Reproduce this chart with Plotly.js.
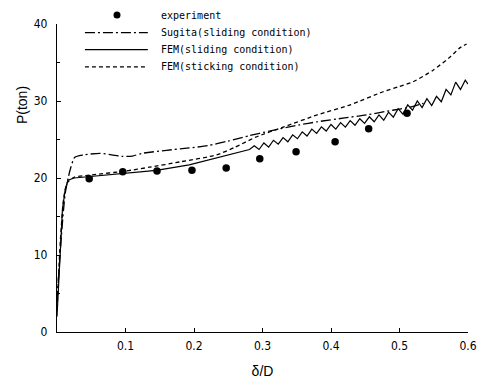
<!DOCTYPE html>
<html>
<head>
<meta charset="utf-8">
<script src="https://cdn.plot.ly/plotly-3.0.1.min.js"></script>
<style>html,body{margin:0;padding:0;background:#fff}#chart{width:482px;height:380px}</style>
</head>
<body>
<div id="chart"></div>
<script>
// ---- data ----
const expX = [0.047, 0.096, 0.146, 0.197, 0.247, 0.296, 0.349, 0.406, 0.455, 0.511];
const expY = [19.9, 20.8, 20.9, 21.0, 21.3, 22.5, 23.4, 24.7, 26.4, 28.4];

const sugitaX = [0.0, 0.006, 0.012, 0.019, 0.026, 0.038, 0.063, 0.08, 0.095, 0.11, 0.124, 0.16, 0.193, 0.22, 0.25, 0.281, 0.31, 0.354, 0.38, 0.42, 0.452, 0.49, 0.515, 0.535];
const sugitaY = [4, 12, 18, 21, 22.7, 23.0, 23.2, 23.0, 22.8, 22.85, 23.2, 23.6, 23.9, 24.2, 24.8, 25.5, 26.1, 26.9, 27.3, 27.8, 28.2, 28.8, 29.2, 29.7];

const slideX = [0, 0.004, 0.008, 0.012, 0.016, 0.025, 0.047, 0.095, 0.145, 0.193, 0.233, 0.26, 0.281,
  0.288, 0.295, 0.302, 0.309, 0.316, 0.323, 0.330, 0.337, 0.344, 0.351, 0.358, 0.365, 0.372, 0.379,
  0.386, 0.393, 0.400, 0.407, 0.414, 0.421, 0.428, 0.435, 0.442, 0.449, 0.456, 0.463, 0.470, 0.477,
  0.484, 0.491, 0.498, 0.505, 0.512, 0.519, 0.526, 0.533, 0.540, 0.547, 0.554, 0.561, 0.568, 0.575,
  0.582, 0.589, 0.596, 0.600];
const slideY = [2, 10, 16, 18.5, 19.7, 20.0, 20.2, 20.6, 21.0, 21.7, 22.6, 23.2, 23.7,
  24.2, 23.7, 24.55, 24.0, 24.9, 24.4, 25.25, 24.7, 25.6, 25.1, 26.0, 25.45, 26.35, 25.8,
  26.65, 26.1, 26.95, 26.35, 27.2, 26.6, 27.45, 26.85, 27.7, 27.1, 27.95, 27.3, 28.2, 27.5,
  28.55, 27.9, 29.0, 28.3, 29.5, 28.8, 30.0, 29.15, 30.3, 29.4, 30.6, 29.9, 31.5, 30.8,
  32.45, 31.5, 32.7, 32.2];

const stickX = [0, 0.005, 0.010, 0.015, 0.025, 0.05, 0.1, 0.135, 0.18, 0.233, 0.26, 0.29, 0.33, 0.38, 0.428, 0.476, 0.5, 0.52, 0.549, 0.575, 0.588, 0.598];
const stickY = [3, 12, 17.5, 19.4, 20.1, 20.4, 20.9, 21.4, 22.1, 23.0, 24.0, 25.3, 26.6, 28.2, 29.5, 31.2, 31.9, 32.5, 34.0, 35.8, 36.9, 37.4];

const xTicks = [0.1, 0.2, 0.3, 0.4, 0.5, 0.6];
const yTicks = [0, 10, 20, 30, 40];
const legendNames = ['experiment', 'Sugita(sliding condition)', 'FEM(sliding condition)', 'FEM(sticking condition)'];

// ---- styles ----
const tickFont = {family: '"Liberation Sans Narrow", "DejaVu Sans Condensed", "Liberation Sans", sans-serif', size: 12, color: '#000'};
const legFont = {family: '"DejaVu Sans Mono", monospace', size: 10, color: '#000'};
const dashSugita = '10px,3px,2px,3px';
const dashStick = '4px,3px';

const traces = [
  {x: expX, y: expY, mode: 'markers', type: 'scatter', name: legendNames[0],
   marker: {color: '#000', size: 7.5, symbol: 'circle'}},
  {x: sugitaX, y: sugitaY, mode: 'lines', type: 'scatter', name: legendNames[1],
   line: {color: '#000', width: 1.3, dash: dashSugita, shape: 'spline', smoothing: 0.6}},
  {x: slideX, y: slideY, mode: 'lines', type: 'scatter', name: legendNames[2],
   line: {color: '#000', width: 1.2}},
  {x: stickX, y: stickY, mode: 'lines', type: 'scatter', name: legendNames[3],
   line: {color: '#000', width: 1.3, dash: dashStick, shape: 'spline', smoothing: 0.6}}
];

// custom legend (paper coordinates)
const legRows = [1.029, 0.972, 0.917, 0.861];
const legX0 = 0.068, legX1 = 0.221, legTextX = 0.248, legMarkX = 0.146;
const shapes = [
  {type: 'circle', xref: 'paper', yref: 'paper', xsizemode: 'pixel', ysizemode: 'pixel',
   xanchor: legMarkX, yanchor: legRows[0], x0: -3.5, x1: 3.5, y0: -3.5, y1: 3.5,
   fillcolor: '#000', line: {color: '#000', width: 0}},
  {type: 'line', xref: 'paper', yref: 'paper', x0: legX0, x1: legX1, y0: legRows[1], y1: legRows[1],
   line: {color: '#000', width: 1.2, dash: dashSugita}},
  {type: 'line', xref: 'paper', yref: 'paper', x0: legX0, x1: legX1, y0: legRows[2], y1: legRows[2],
   line: {color: '#000', width: 1.2}},
  {type: 'line', xref: 'paper', yref: 'paper', x0: legX0, x1: legX1, y0: legRows[3], y1: legRows[3],
   line: {color: '#000', width: 1.2, dash: dashStick}}
];
const annotations = legendNames.map((t, i) => ({
  text: t, xref: 'paper', yref: 'paper', x: legTextX, y: legRows[i], xanchor: 'left', yanchor: 'middle',
  showarrow: false, font: legFont
}));
annotations.push({text: 'P(ton)', xref: 'paper', yref: 'paper', x: -0.085, y: 0.737, textangle: -90,
  xanchor: 'center', yanchor: 'middle', showarrow: false,
  font: {family: '"Liberation Sans", Arial, sans-serif', size: 14, color: '#000'}});

const layout = {
  width: 482, height: 380,
  margin: {l: 57, r: 14, t: 24, b: 48},
  paper_bgcolor: '#fff', plot_bgcolor: '#fff',
  showlegend: false,
  xaxis: {range: [0, 0.6], tickvals: xTicks, ticktext: xTicks.map(v => v.toFixed(1)),
    ticks: 'inside', ticklen: 4, tickcolor: '#000', showline: true, linecolor: '#000', linewidth: 1.2,
    showgrid: false, zeroline: false, tickfont: tickFont, ticklabelstandoff: 2,
    title: {text: 'δ/D', standoff: 14, font: {family: '"Liberation Sans", Arial, sans-serif', size: 14, color: '#000'}}},
  yaxis: {range: [0, 40], tickvals: yTicks, ticks: 'inside', ticklen: 4, tickcolor: '#000',
    showline: true, linecolor: '#000', linewidth: 1.2, showgrid: false, zeroline: false,
    tickfont: tickFont, ticklabelstandoff: 6,
    minor: {dtick: 5, ticks: 'inside', ticklen: 3, tickcolor: '#000', showgrid: false}},
  shapes: shapes,
  annotations: annotations
};

Plotly.newPlot('chart', traces, layout, {displayModeBar: false, staticPlot: true});
</script>
</body>
</html>
